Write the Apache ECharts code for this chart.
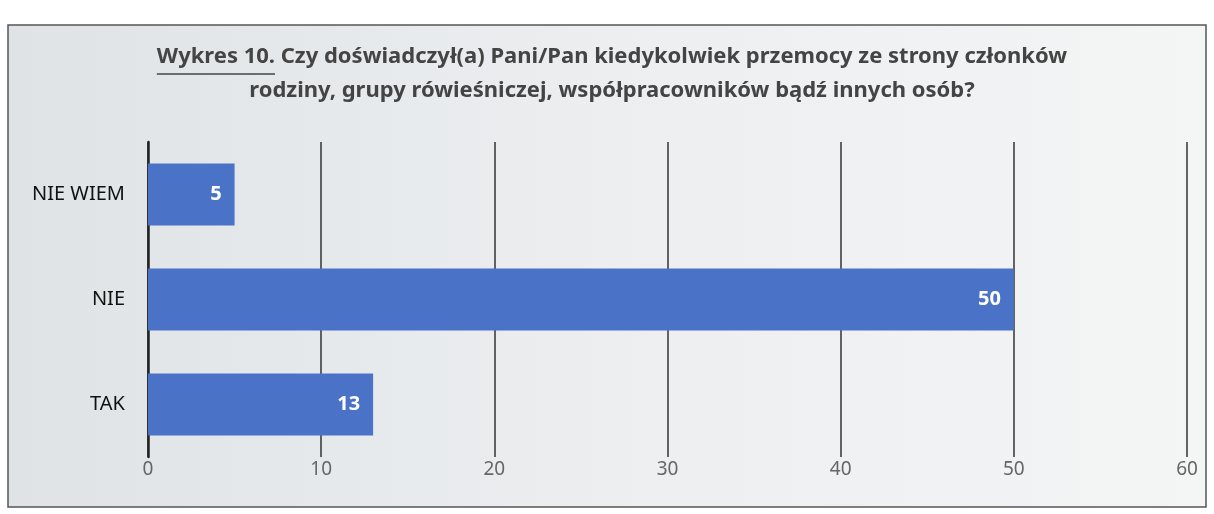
<!DOCTYPE html>
<html><head><meta charset="utf-8">
<script src="https://cdn.jsdelivr.net/npm/echarts@6/dist/echarts.min.js"></script>
<style>html,body{margin:0;padding:0;background:#fff}#c{width:1214px;height:514px}</style>
</head><body><div id="c"></div>
<script>
const categories = ['TAK', 'NIE', 'NIE WIEM'];
const values = [13, 50, 5];
const xTicks = [0, 10, 20, 30, 40, 50, 60];
const titleLine1Prefix = 'Wykres 10.';
const titleLine1Rest = ' Czy doświadczył(a) Pani/Pan kiedykolwiek przemocy ze strony członków';
const titleLine2 = 'rodziny, grupy rówieśniczej, współpracowników bądź innych osób?';

const FONT = 'Noto Sans';
const TFONT = 'bold 22px "' + FONT + '"';
const ctx = document.createElement('canvas').getContext('2d');
ctx.font = TFONT;
const wPrefix = ctx.measureText(titleLine1Prefix).width;
const wLine1 = ctx.measureText(titleLine1Prefix + titleLine1Rest).width;
const cx = 612;
const x1 = cx - wLine1 / 2;

const chart = echarts.init(document.getElementById('c'));
chart.setOption({
  backgroundColor: '#ffffff',
  graphic: [
    { type: 'rect', shape: { x: 8, y: 25, width: 1198, height: 482 },
      style: { fill: new echarts.graphic.LinearGradient(0, 0, 1, 0, [
        { offset: 0, color: '#dfe3e6' }, { offset: 0.5, color: '#eceef0' }, { offset: 1, color: '#f4f5f5' }]),
        stroke: '#555', lineWidth: 1.5 }, z: -10 },
    { type: 'text', x: x1, y: 46,
      style: { text: titleLine1Prefix + titleLine1Rest, font: TFONT, fill: '#444' } },
    { type: 'line', shape: { x1: x1, y1: 74, x2: x1 + wPrefix, y2: 74 },
      style: { stroke: '#444', lineWidth: 1.5 } },
    { type: 'text', x: cx, y: 80,
      style: { text: titleLine2, font: TFONT, fill: '#444', textAlign: 'center' } }
  ],
  grid: { left: 148, right: 27, top: 142, bottom: 57 },
  xAxis: {
    type: 'value', min: 0, max: 60, interval: 10,
    axisLine: { show: false }, axisTick: { show: false },
    splitLine: { lineStyle: { color: '#333', width: 1.5 } },
    axisLabel: { color: '#666', fontFamily: FONT, fontSize: 19, margin: 3,
      formatter: v => xTicks.includes(v) ? String(v) : '' }
  },
  yAxis: {
    type: 'category', data: categories,
    axisLine: { lineStyle: { color: '#222', width: 2.5 } }, axisTick: { show: false },
    axisLabel: { color: '#111', fontFamily: FONT, fontSize: 20, margin: 23 }
  },
  series: [{
    type: 'bar', data: values, barCategoryGap: '41%',
    itemStyle: { color: '#4a72c6' },
    label: { show: true, position: 'insideRight', color: '#fff', fontWeight: 'bold', fontFamily: FONT, fontSize: 20, distance: 13 }
  }]
});
</script></body></html>
